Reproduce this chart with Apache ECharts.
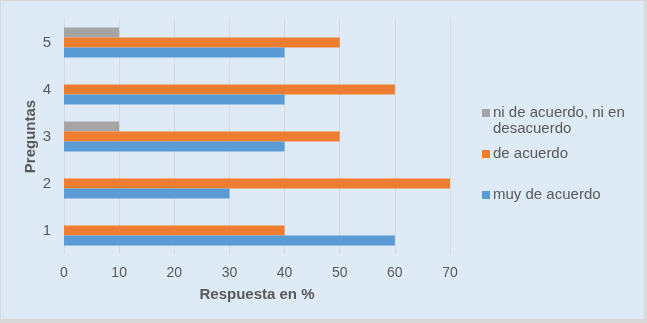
<!DOCTYPE html>
<html>
<head>
<meta charset="utf-8">
<script src="https://cdn.jsdelivr.net/npm/echarts@6/dist/echarts.min.js"></script>
<style>
	html,body{margin:0;padding:0;background:#d9d9d9;}
	#chart{position:absolute;left:1px;top:1px;width:643px;height:318px;background:#deeaf6;}
</style>
</head>
<body>
<div id="chart"></div>
<script>
var preguntas = ['1', '2', '3', '4', '5'];
var muyDeAcuerdo = [60, 30, 40, 40, 40];
var deAcuerdo = [40, 70, 50, 60, 50];
var niDeAcuerdo = [0, 0, 10, 0, 10];
var xTicks = [0, 70, 10];

var chart = echarts.init(document.getElementById('chart'));

var txt = '#595959';
var font = 'Liberation Sans, Arial, sans-serif';

function legendItem(name, top, icon, h){
	return {
		data: [name],
		orient: 'vertical',
		left: 481,
		top: top,
		padding: 0,
		itemWidth: 8,
		itemHeight: h || 8,
		itemGap: 0,
		icon: icon || 'rect',
		selectedMode: false,
		textStyle: {color: txt, fontSize: 15, fontFamily: font, lineHeight: 16, padding: [0, 0, 0, -2]}
	};
}

var option = {
	animation: false,
	grid: {left: 63, right: 194, top: 18, bottom: 65},
	legend: [
		legendItem('ni de acuerdo, ni en\ndesacuerdo', 104, 'path://M0,0L8,0L8,8L0,8Z M0,24L8,24', 24),
		legendItem('de acuerdo', 145),
		legendItem('muy de acuerdo', 186)
	],
	xAxis: {
		type: 'value',
		min: xTicks[0],
		max: xTicks[1],
		interval: xTicks[2],
		name: 'Respuesta en %',
		nameLocation: 'middle',
		nameGap: 33,
		nameMoveOverlap: false,
		nameTextStyle: {color: txt, fontSize: 15, fontWeight: 'bold', fontFamily: font},
		axisLine: {show: false},
		axisTick: {show: false},
		axisLabel: {color: txt, fontSize: 14, fontFamily: font, margin: 12},
		splitLine: {lineStyle: {color: '#d9d9d9', width: 1}}
	},
	yAxis: {
		type: 'category',
		data: preguntas,
		name: 'Preguntas',
		nameLocation: 'middle',
		nameGap: 26,
		nameRotate: 90,
		nameMoveOverlap: false,
		nameTextStyle: {color: txt, fontSize: 15, fontWeight: 'bold', fontFamily: font},
		axisLine: {lineStyle: {color: '#d9d9d9'}},
		axisTick: {show: false},
		axisLabel: {color: txt, fontSize: 15, fontFamily: font, margin: 13}
	},
	series: [
		{name: 'ni de acuerdo, ni en\ndesacuerdo', type: 'bar', data: niDeAcuerdo, barWidth: 10, barGap: '0%', itemStyle: {color: '#a5a5a5'}},
		{name: 'de acuerdo', type: 'bar', data: deAcuerdo, barWidth: 10, barGap: '0%', itemStyle: {color: '#ed7d31'}},
		{name: 'muy de acuerdo', type: 'bar', data: muyDeAcuerdo, barWidth: 10, barGap: '0%', itemStyle: {color: '#5b9bd5'}}
	]
};

chart.setOption(option);
</script>
</body>
</html>
